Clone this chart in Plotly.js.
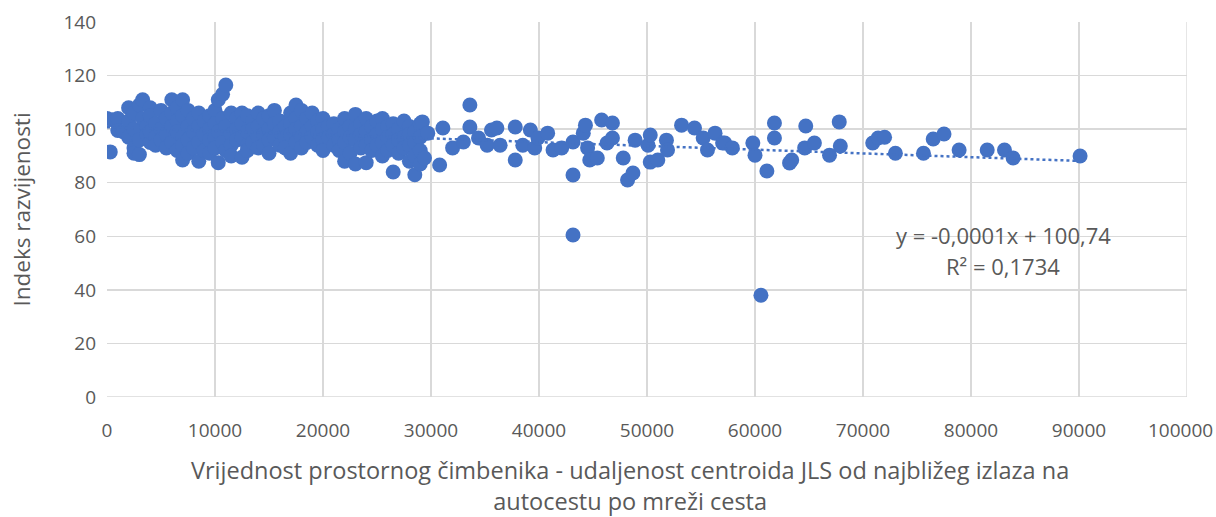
<!DOCTYPE html>
<html>
<head>
<meta charset="utf-8">
<script src="https://cdn.plot.ly/plotly-3.0.1.min.js"></script>
<style>html,body{margin:0;padding:0;background:#fff;}#chart{width:1216px;height:517px;}</style>
</head>
<body>
<div id="chart"></div>
<script>
// distance (m) and development index, dense cluster 0-30000
const xDense = [
 0,300,500,1000,1000,1500,
 2000,2000,2000,2500,2500,2500,2500,3000,3000,3000,3300,3300,3700,3700,
 4000,4000,4000,4000,4500,4500,4500,5000,5000,5000,5500,5500,5500,
 6000,6000,6000,6000,6500,6500,6500,6500,7000,7000,7000,7000,7000,
 7500,7500,7500,7500,8000,8000,8000,8500,8500,8500,8500,9000,9000,9000,
 9500,9500,9500,9500,10000,10000,10000,10000,10300,10300,10300,10700,10700,10700,
 11000,11000,11000,11500,11500,11500,11500,12000,12000,12000,12500,12500,12500,12500,
 13000,13000,13000,13000,13500,13500,13500,14000,14000,14000,14000,14500,14500,14500,
 15000,15000,15000,15000,15500,15500,15500,16000,16000,16000,16500,16500,16500,
 17000,17000,17000,17000,17500,17500,17500,17500,18000,18000,18000,18000,18500,18500,18500,
 19000,19000,19000,19500,19500,19500,20000,20000,20000,20000,20500,20500,21000,21000,21000,
 21500,21500,21500,22000,22000,22000,22000,22500,22500,22500,23000,23000,23000,23000,
 23500,23500,23500,24000,24000,24000,24000,24500,24500,24500,25000,25000,25000,
 25500,25500,25500,25500,26000,26000,26000,26500,26500,26500,26500,27000,27000,27000,
 27500,27500,27500,28000,28000,28000,28000,28500,28500,28500,28500,29000,29000,29000,29000
];
const yDense = [
 104,91.5,103.5,104,99.5,99,
 108,103,97,106,100,93,91,109,96,90.5,111,104,101,98,
 108,105,95,99,102,97,94,107,100,96,104,98,93,
 111,106,101,95,108,103,99,92,111,105,97,94,88.5,
 107,101,96,91,104,99,93,106,101,95,88,103,98,92,
 105,100,96,91,107,102,97,93,111,99,87.5,113,104,95,
 116.5,101,92,106,98,94,90,104,100,96,106,102,97,89.5,
 105,99,94,92,103,100,95,106,101,97,93,104,98,94,
 105,100,96,91,107,102,97,103,99,94,101,97,93,
 106,102,98,91,109,104,100,95,107,101,97,93,104,99,95,
 106,101,97,103,99,94,104,100,96,92,101,97,102,98,94,
 100,96,92,104,99,95,88,101,97,91,105.5,100,96,87,
 102,98,93,104,99,94,87.5,101,96,92,103,98,94,
 104,100,95,90,101,97,92,102,98,94,84,100,96,91,
 103,97,93,101,98,94,88,99,95,90,83,102,97,92,87
];
// sparse points beyond 29000
const xSparse = [
 29200,29700,31100,30800,29400,32000,33000,33600,33600,34400,35200,35600,36100,36400,
 37800,37800,38500,39200,39600,39900,40800,41300,42100,43150,43150,43150,
 44100,44300,44500,44700,45400,45800,46300,46800,46800,47800,48200,48700,48900,
 50100,50300,50300,51000,51800,51900,53200,54400,55200,55600,56300,57000,57200,57900,
 59800,60000,60550,61100,61800,61800,63200,63400,64600,64700,65500,66900,67800,67900,
 70900,71400,72000,73000,75600,76500,77500,78900,81500,83100,83900,90100
];
const ySparse = [
 102.7,98.5,100.4,86.6,89.2,93,95.2,109,100.8,96.7,94,99.7,100.4,94,
 100.8,88.5,94,99.7,93,96.7,98.5,92.2,93,95.2,82.9,60.5,
 98.5,101.5,93,88.5,89.2,103.4,94.8,102.3,96.7,89.2,81,83.6,95.9,
 94,97.8,87.7,88.5,95.9,92.2,101.5,100.4,96.7,92.2,98.5,94.8,94.8,93,
 94.8,90.3,38,84.4,102.3,96.7,87.4,88.5,93,101.2,94.8,90.3,102.7,93.7,
 94.8,96.7,97,91,91,96.3,98.2,92.2,92.2,92.2,89.2,90
];
const xs = xDense.concat(xSparse);
const ys = yDense.concat(ySparse);
// trendline as given by the chart
const trendSlope = -0.00014;
const trendIntercept = 100.74;
const xTicks = [0,10000,20000,30000,40000,50000,60000,70000,80000,90000];
const xLastTick = 100000;
const yTicks = [0,20,40,60,80,100,120,140];
const xTitle = 'Vrijednost prostornog čimbenika - udaljenost centroida JLS od najbližeg izlaza na<br>autocestu po mreži cesta';
const yTitle = 'Indeks razvijenosti';
const eqText = "y = -0,0001x + 100,74";
const r2Text = "R² = 0,1734";

const xMin = Math.min(...xs), xMax = Math.max(...xs);
const trendX = [xMin, xMax];
const trendY = trendX.map(v => trendIntercept + trendSlope * v);

const blue = '#4472C4';
const grey = '#595959';
const font = 'Open Sans, Noto Sans, sans-serif';
const tickSize = 19;

const traces = [
 {x: xs, y: ys, type: 'scatter', mode: 'markers',
  marker: {color: blue, size: 15, line: {width: 0}}, hoverinfo: 'x+y'},
 {x: trendX, y: trendY, type: 'scatter', mode: 'lines',
  line: {color: blue, width: 2.5, dash: 'dot'}, hoverinfo: 'skip'}
];

const layout = {
 width: 1216, height: 517,
 margin: {l: 107, r: 29, t: 22, b: 120},
 paper_bgcolor: '#fff', plot_bgcolor: '#fff',
 showlegend: false,
 font: {family: font, color: grey, size: 18},
 xaxis: {
  range: [0, 100000], tickvals: xTicks, ticktext: xTicks.map(String),
  showgrid: true, gridcolor: '#d9d9d9', gridwidth: 1.3,
  zeroline: false, showline: false, ticks: '',
  ticklabelstandoff: 20,
  tickfont: {family: font, size: tickSize, color: grey}
 },
 yaxis: {
  range: [0, 140], tickvals: yTicks, ticktext: yTicks.map(String),
  showgrid: true, gridcolor: '#d9d9d9', gridwidth: 1.3,
  zeroline: false, showline: false, ticks: '',
  ticklabelstandoff: 10,
  tickfont: {family: font, size: tickSize, color: grey},
  title: {text: yTitle, font: {family: font, size: 22.5, color: grey}, standoff: 26}
 },
 shapes: [
  {type: 'line', xref: 'paper', yref: 'y', x0: 0, x1: 1, y0: 0, y1: 0, line: {color: '#d9d9d9', width: 1.3}},
  {type: 'line', xref: 'x', yref: 'paper', x0: xLastTick, x1: xLastTick, y0: 0, y1: 1, line: {color: '#d9d9d9', width: 1.3}}
 ],
 annotations: [
  {xref: 'paper', yref: 'paper', x: 1.0255, xanchor: 'right', y: 0, yanchor: 'middle', yshift: -33,
   text: String(xLastTick), showarrow: false, font: {family: font, size: tickSize, color: grey}},
  {xref: 'paper', yref: 'paper', x: 0.4843, xanchor: 'center', y: -0.2347, yanchor: 'middle',
   text: xTitle, showarrow: false, font: {family: font, size: 23.5, color: grey}},
  {xref: 'x', yref: 'y', x: 83000, y: 60.5, text: eqText, showarrow: false,
   font: {family: font, size: 22, color: grey}},
  {xref: 'x', yref: 'y', x: 83000, y: 48.8, text: r2Text, showarrow: false,
   font: {family: font, size: 22, color: grey}}
 ]
};

Plotly.newPlot('chart', traces, layout, {displayModeBar: false, staticPlot: true});
</script>
</body>
</html>
